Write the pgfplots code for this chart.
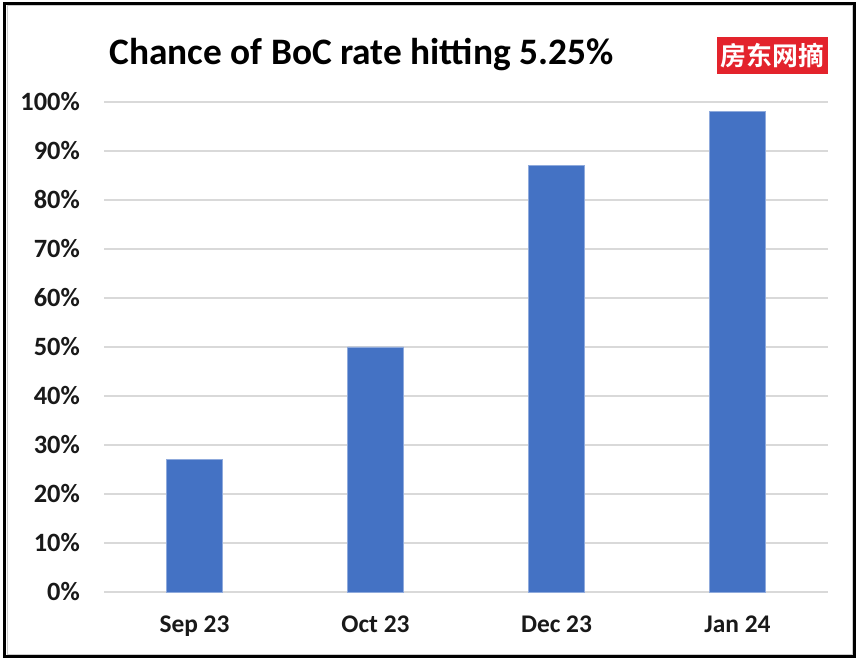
\documentclass[border=0pt]{standalone}
\usepackage{fontspec}
\setmainfont{Carlito}
\newfontfamily\cjk{Noto Sans CJK SC}[BoldFont=* Bold]
\usepackage{pgfplots}
\pgfplotsset{compat=1.18}
\definecolor{barblue}{HTML}{4472C4}
\definecolor{gridgray}{HTML}{D9D9D9}
\definecolor{wmred}{HTML}{E3232C}
\begin{document}
\begin{tikzpicture}[x=1bp,y=1bp]
\useasboundingbox (0,0) rectangle (862,668);
\fill[white] (0,0) rectangle (862,668);
\begin{axis}[
  at={(104bp,76bp)}, anchor=south west,
  scale only axis, width=724bp, height=490bp,
  xmin=-0.5, xmax=3.5, ymin=0, ymax=100,
  axis line style={draw=none},
  major tick length=0pt,
  ytick={0,10,...,100},
  yticklabel={\pgfmathprintnumber{\tick}\%},
  ymajorgrids, grid style={gridgray, line width=1.3bp},
  xtick={0,1,2,3},
  xticklabels={Sep 23, Oct 23, Dec 23, Jan 24},
  /pgf/number format/assume math mode=true,
  yticklabel style={font=\fontsize{26.5}{29}\selectfont\bfseries, anchor=east, inner sep=0pt, xshift=-24bp, text=black!90},
  xticklabel style={font=\fontsize{25.5}{28}\selectfont\bfseries, anchor=base, inner sep=0pt, yshift=-41bp, text=black!90},
  clip=false,
]
\addplot[ybar, bar width=56bp, fill=barblue, draw=barblue!60!white, line width=0.6bp] coordinates {(0,27) (1,50) (2,87) (3,98)};
\end{axis}
\node[anchor=base, inner sep=0pt] at (361.5,603) {\fontsize{37.5}{42}\selectfont\bfseries Chance of BoC rate hitting 5.25\%};
\fill[wmred] (717,594) rectangle (828,631);
\node[inner sep=0pt, text=white] at (772.5,612.5) {\cjk\bfseries\fontsize{26}{28}\selectfont 房东网摘};
\draw[gray!40, line width=1bp] (7,13) rectangle (852,662);
\draw[black, line width=3bp] (4.5,11) rectangle (854.5,664);
\end{tikzpicture}
\end{document}
